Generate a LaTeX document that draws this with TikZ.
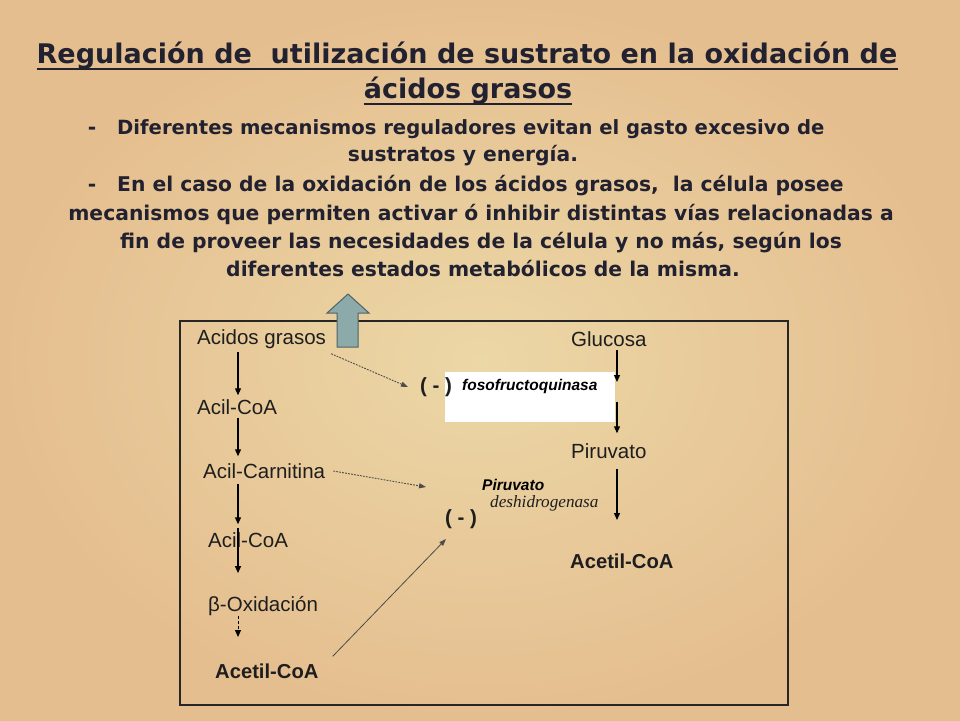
\documentclass[tikz,border=0pt]{standalone}
\usepackage{fontspec}
\newfontfamily\arialf{Liberation Sans}
\newfontfamily\dejaf{DejaVu Sans}
\newfontfamily\timesf{Liberation Serif}
\usetikzlibrary{arrows.meta,calc}
\definecolor{bgc}{RGB}{236,215,166}
\definecolor{bge}{RGB}{229,190,143}
\definecolor{txt}{RGB}{33,33,48}
\definecolor{lbltxt}{RGB}{30,30,30}
\definecolor{arrfill}{RGB}{140,170,170}
\definecolor{arrline}{RGB}{80,98,102}
\begin{document}
\begin{tikzpicture}[x=1pt,y=-1pt,
  ttl/.style={font=\dejaf\bfseries\fontsize{27}{32}\selectfont, text=txt, inner sep=0, anchor=base},
  body/.style={font=\dejaf\bfseries\fontsize{20.3}{24}\selectfont, text=txt, inner sep=0, anchor=base},
  bodyw/.style={body, anchor=base west},
  lbl/.style={font=\arialf\fontsize{20.5}{24}\selectfont, text=lbltxt, inner sep=0, anchor=west},
  lblb/.style={lbl, font=\arialf\bfseries\fontsize{20.2}{24}\selectfont},
  enz/.style={font=\arialf\bfseries\itshape\fontsize{15.5}{18}\selectfont, text=black, inner sep=0, anchor=west},
  enzs/.style={font=\timesf\itshape\fontsize{17.2}{20}\selectfont, text=lbltxt, inner sep=0, anchor=west},
  neg/.style={font=\arialf\bfseries\fontsize{20.5}{24}\selectfont, text=lbltxt, inner sep=0, anchor=west},
  varr/.style={-{Triangle[length=7pt,width=6pt]}, line width=1.2pt, draw=black},
  dotarr/.style={-{Triangle[length=7pt,width=5pt]}, line width=0.9pt, dash pattern=on 1.8pt off 1.2pt, draw=black!70},
  solarr/.style={-{Triangle[length=7pt,width=5pt]}, line width=0.8pt, draw=black!70},
  uline/.style={line width=1.6pt, draw=txt}
]
\useasboundingbox (0,0) rectangle (960,720);
\shade[inner color=bgc, outer color=bge] (0,0) rectangle (960,720);

% title
\node[ttl] (t1) at (467,63) {Regulación de~ utilización de sustrato en la oxidación de};
\node[ttl] (t2) at (468,98) {ácidos grasos};
\draw[uline] ([yshift=-6pt]t1.base west) -- ([yshift=-6pt]t1.base east);
\draw[uline] ([yshift=-6pt]t2.base west) -- ([yshift=-6pt]t2.base east);

% bullets
\node[body] (d1) at (92,134) {-};
\node[bodyw, font=\dejaf\bfseries\fontsize{19.6}{24}\selectfont] (b1a) at (117,134) {Diferentes mecanismos reguladores evitan el gasto excesivo de};
\node[body] (b1b) at (463,161) {sustratos y energía.};
\node[body] (d2) at (92,191) {-};
\node[bodyw] (b2a) at (117,191) {En el caso de la oxidación de los ácidos grasos,~ la célula posee};
\node[body] (b2b) at (481,220) {mecanismos que permiten activar ó inhibir distintas vías relacionadas a};
\node[body] (b2c) at (481,248) {fin de proveer las necesidades de la célula y no más, según los};
\node[body] (b2d) at (483,276) {diferentes estados metabólicos de la misma.};

% frame
\draw[line width=1.8pt, draw=black!85] (180,321) rectangle (788,705);

% block arrow
\draw[fill=arrfill, draw=arrline, line width=1pt, line join=miter]
  (337,347) -- (337,313) -- (327,313) -- (348,294) -- (369,313) -- (358,313) -- (358,347) -- cycle;

% white box
\node[fill=white, inner sep=0, minimum width=170pt, minimum height=50pt, anchor=north west] (wb) at (445,372) {};

% left column
\coordinate (colL) at (238,0);
\coordinate (colR) at (617,0);
\node[lbl] (ag) at (197,339) {Acidos grasos};
\node[lbl] (ac1) at (197,407) {Acil-CoA};
\node[lbl] (acar) at (203,471) {Acil-Carnitina};
\node[lbl] (ac2) at (208,540) {Acil-CoA};
\node[lbl] (box) at (208,606) {β-Oxidación};
\node[lblb] (acet1) at (215,671) {Acetil-CoA};
\coordinate (dend) at (238,637);

% right column
\node[lbl] (glu) at (571,339) {Glucosa};
\node[lbl] (pir) at (571,451) {Piruvato};
\node[lblb] (acet2) at (570,561) {Acetil-CoA};
\coordinate (g1e) at (617,382);
\coordinate (g2s) at (617,402);
\coordinate (p1e) at (617,520);

% enzymes
\node[neg] (neg1) at (420,387) {( - )};
\node[enz] (pfk) at (462,386) {fosofructoquinasa};
\node[enz] (pdh1) at (482,485) {Piruvato};
\node[enzs] (pdh2) at (490,503) {deshidrogenasa};
\node[neg] (neg2) at (445,519) {( - )};

% vertical arrows
\draw[varr, shorten <=3pt, shorten >=4pt] (ag.south -| colL) -- (ac1.north -| colL);
\draw[varr, shorten <=3pt, shorten >=7pt] (ac1.south -| colL) -- (acar.north -| colL);
\draw[varr, shorten <=5pt, shorten >=8pt] (acar.south -| colL) -- (ac2.north -| colL);
\draw[varr, shorten <=-4pt, shorten >=23pt] (ac2.north -| colL) -- (box.north -| colL);
\draw[varr, dash pattern=on 3pt off 2pt, line width=1pt] (box.south -| colL) -- (dend);

\draw[varr, shorten <=3pt] (glu.south -| colR) -- (g1e);
\draw[varr, shorten >=10pt] (g2s) -- (pir.north -| colR);
\draw[varr, shorten <=10pt] (pir.south -| colR) -- (p1e);

% regulatory arrows
\draw[dotarr] ([xshift=5pt,yshift=-5pt]ag.south east) -- ([xshift=-12pt]neg1.west);
\coordinate (c2e) at (426,487);
\draw[dotarr] ([xshift=8pt]acar.east) -- (c2e);
\coordinate (c3e) at (446,539);
\draw[solarr] ([xshift=14pt,yshift=7pt]acet1.north east) -- (c3e);
\end{tikzpicture}
\end{document}
